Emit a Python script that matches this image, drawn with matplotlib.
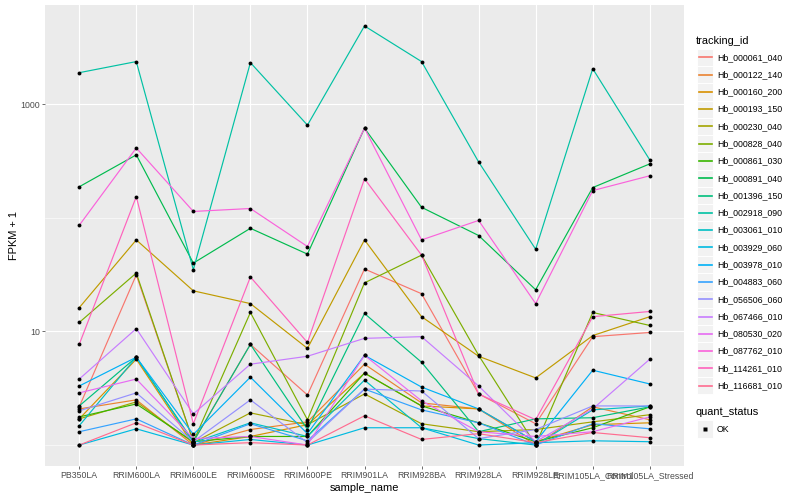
import matplotlib
matplotlib.use("Agg")
import matplotlib.pyplot as plt
import numpy as np
from matplotlib.patches import Rectangle
from matplotlib.ticker import NullFormatter

plt.rcParams['font.family'] = ['Liberation Sans', 'DejaVu Sans']

samples = ["PB350LA", "RRIM600LA", "RRIM600LE", "RRIM600SE", "RRIM600PE", "RRIM901LA",
           "RRIM928BA", "RRIM928LA", "RRIM928LE", "RRIM105LA_Control", "RRIM105LA_Stressed"]

# FPKM + 1, one list per gene
hb_000061_040 = [2.17, 31.5, 1.07, 7.7, 2.76, 35.5, 21.5, 2.82, 1.54, 9.0, 9.8]
hb_000122_140 = [2.08, 2.5, 1.0, 1.37, 1.6, 5.15, 2.35, 2.08, 1.0, 2.17, 1.67]
hb_000160_200 = [1.70, 5.70, 1.0, 1.19, 1.51, 4.30, 2.21, 2.08, 1.07, 1.51, 1.57]
hb_000193_150 = [16.2, 64, 22.8, 17.6, 7.1, 64, 13.5, 6.05, 3.9, 9.2, 13.5]
hb_000230_040 = [1.70, 2.40, 1.05, 1.92, 1.51, 2.82, 1.54, 1.31, 1.37, 1.60, 1.85]
hb_000828_040 = [12.0, 32.7, 1.07, 14.7, 1.67, 26.8, 47, 6.17, 1.0, 14.7, 11.3]
hb_000861_030 = [1.77, 2.30, 1.07, 1.19, 1.19, 4.30, 2.21, 1.57, 1.07, 1.42, 2.17]
hb_000891_040 = [188, 359, 40, 81, 48, 617, 124, 70, 23.3, 185, 299]
hb_001396_150 = [2.21, 5.93, 1.07, 7.7, 1.37, 14.4, 5.36, 1.31, 1.70, 1.74, 2.17]
hb_002918_090 = [1900, 2380, 35, 2330, 656, 4900, 2380, 311, 53, 2060, 324]
hb_003061_010 = [1.48, 5.93, 1.05, 1.57, 1.19, 3.73, 1.42, 1.14, 1.0, 2.04, 2.21]
hb_003929_060 = [1.0, 1.39, 1.0, 1.12, 1.0, 1.42, 1.42, 1.0, 1.05, 1.09, 1.07]
hb_003978_010 = [3.31, 5.93, 1.24, 3.96, 1.26, 6.17, 3.24, 2.08, 1.07, 4.56, 3.45]
hb_004883_060 = [1.31, 1.70, 1.0, 1.54, 1.09, 3.11, 2.04, 1.57, 1.0, 1.54, 1.39]
hb_056506_060 = [2.0, 2.88, 1.07, 2.5, 1.05, 3.11, 2.99, 1.14, 1.37, 2.21, 2.21]
hb_067466_010 = [3.81, 10.6, 1.88, 5.15, 6.05, 8.7, 9.0, 3.31, 1.07, 2.08, 5.70]
hb_080530_020 = [2.88, 3.81, 1.14, 1.19, 1.0, 6.17, 2.45, 1.31, 1.19, 1.31, 1.77]
hb_087762_010 = [86, 413, 114, 121, 56, 617, 64, 95, 17.6, 174, 235]
hb_114261_010 = [7.7, 154, 1.54, 30.2, 8.0, 221, 47, 2.82, 1.67, 13.5, 15.0]
hb_116681_010 = [1.0, 1.57, 1.0, 1.05, 1.0, 1.81, 1.12, 1.26, 1.05, 1.29, 1.16]

tracking_ids = ["Hb_000061_040", "Hb_000122_140", "Hb_000160_200", "Hb_000193_150",
                "Hb_000230_040", "Hb_000828_040", "Hb_000861_030", "Hb_000891_040",
                "Hb_001396_150", "Hb_002918_090", "Hb_003061_010", "Hb_003929_060",
                "Hb_003978_010", "Hb_004883_060", "Hb_056506_060", "Hb_067466_010",
                "Hb_080530_020", "Hb_087762_010", "Hb_114261_010", "Hb_116681_010"]
series = [hb_000061_040, hb_000122_140, hb_000160_200, hb_000193_150, hb_000230_040,
          hb_000828_040, hb_000861_030, hb_000891_040, hb_001396_150, hb_002918_090,
          hb_003061_010, hb_003929_060, hb_003978_010, hb_004883_060, hb_056506_060,
          hb_067466_010, hb_080530_020, hb_087762_010, hb_114261_010, hb_116681_010]

# ggplot hue palette for 20 levels
colours = ["#F8766D", "#EA8331", "#D89000", "#C09B00", "#A3A500", "#7CAE00", "#39B600",
           "#00BB4E", "#00BF7D", "#00C1A3", "#00BFC4", "#00BAE0", "#00B0F6", "#35A2FF",
           "#9590FF", "#C77CFF", "#E76BF3", "#FA62DB", "#FF62BC", "#FF6C90"]

fig = plt.figure(figsize=(8, 5), dpi=100)
ax = fig.add_axes([45 / 800, 34 / 500, 639 / 800, 461 / 500])
ax.set_facecolor("#EBEBEB")

x = np.arange(len(samples))
for vals, c in zip(series, colours):
    ax.plot(x, vals, color=c, lw=0.85, zorder=2)
for vals in series:
    ax.plot(x, vals, "o", color="black", ms=2.8, mec="none", zorder=3)

ax.set_yscale("log")
allv = np.concatenate([np.array(s, dtype=float) for s in series])
lo, hi = np.log10(allv.min()), np.log10(allv.max())
pad = 0.05 * (hi - lo)
ax.set_ylim(10 ** (lo - pad), 10 ** (hi + pad))
ax.set_xlim(-0.6, len(samples) - 0.4)

ax.set_yticks([10, 1000])
ax.set_yticklabels(["10", "1000"])
ax.set_yticks([1, 100], minor=True)
ax.yaxis.set_minor_formatter(NullFormatter())
ax.set_xticks(x)
ax.set_xticklabels(samples)

ax.grid(which="major", color="white", lw=0.8, zorder=0)
ax.grid(which="minor", axis="y", color="white", lw=0.4, zorder=0)
ax.set_axisbelow(True)
for sp in ax.spines.values():
    sp.set_visible(False)
ax.tick_params(which="major", length=2, width=0.5, color="#333333",
               labelsize=6.3, labelcolor="#4D4D4D", pad=1.6)
ax.tick_params(which="minor", length=0)

ax.set_xlabel("sample_name", fontsize=7.9, labelpad=2)
ax.set_ylabel("FPKM + 1", fontsize=7.9, labelpad=1)

# legends, drawn in pixel space
lg = fig.add_axes([0, 0, 1, 1], facecolor="none")
lg.set_xlim(0, 800)
lg.set_ylim(500, 0)
lg.axis("off")

key = 17.28
lg.text(696, 41, "tracking_id", fontsize=7.9, va="center", ha="left")
for i, (name, c) in enumerate(zip(tracking_ids, colours)):
    cy = 57.3 + i * key
    lg.add_patch(Rectangle((697, cy - key / 2), 16.3, key, facecolor="#F2F2F2",
                           edgecolor="white", lw=0.7))
    lg.plot([698.5, 711.5], [cy, cy], color=c, lw=1.2)
    lg.text(717, cy, name, fontsize=6.3, va="center", ha="left")

lg.text(696, 412, "quant_status", fontsize=7.9, va="center", ha="left")
lg.add_patch(Rectangle((697, 429 - key / 2), 16.3, key, facecolor="#F2F2F2",
                       edgecolor="white", lw=0.7))
lg.plot([705], [429], "s", color="black", ms=2.6, mec="none")
lg.text(717, 429, "OK", fontsize=6.3, va="center", ha="left")

fig.savefig("out.png", dpi=100)
